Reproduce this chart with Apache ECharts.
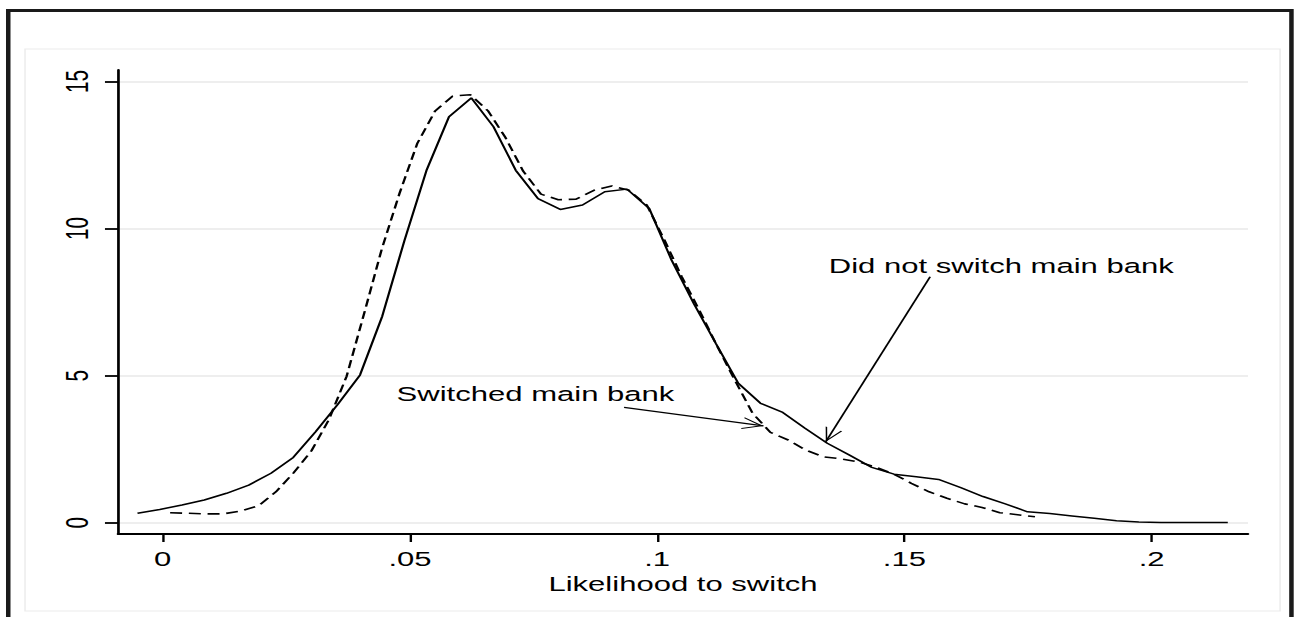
<!DOCTYPE html>
<html>
<head>
<meta charset="utf-8">
<script src="https://cdn.jsdelivr.net/npm/echarts@6/dist/echarts.min.js"></script>
<style>
html,body{margin:0;padding:0;background:#fff;overflow:hidden;}
#wrap{width:1294px;height:617px;overflow:hidden;position:relative;}
#chart{width:863px;height:617px;transform:scaleX(1.4994206);transform-origin:0 0;}
</style>
</head>
<body>
<div id="wrap"><div id="chart"></div></div>
<script>
// Kernel density: did not switch main bank (solid)
const solidX = [-0.0051,-0.0006,0.0039,0.0084,0.0129,0.0174,0.0219,0.0264,0.0309,0.0354,
  0.0399,0.0444,0.0489,0.0534,0.0579,0.0624,0.0669,0.0714,0.0759,0.0804,
  0.0849,0.0894,0.0939,0.0984,0.1029,0.1074,0.1119,0.1164,0.1209,0.1254,
  0.1299,0.1344,0.1389,0.1434,0.1479,0.1524,0.1569,0.1614,0.1659,0.1704,
  0.1749,0.1794,0.1839,0.1884,0.1929,0.1974,0.2019,0.2064,0.2109,0.2154];
const solidY = [0.32,0.45,0.60,0.77,1.00,1.28,1.68,2.22,3.09,4.02,
  5.02,7.02,9.6,12.0,13.80,14.44,13.46,11.98,11.02,10.65,
  10.80,11.25,11.34,10.68,8.93,7.45,6.08,4.74,4.06,3.75,
  3.21,2.70,2.30,1.88,1.65,1.56,1.47,1.19,0.89,0.64,
  0.37,0.31,0.23,0.15,0.07,0.02,0.01,0.01,0.01,0.01];
// Kernel density: switched main bank (dashed)
const dashX = [0.0015,0.0051,0.0086,0.0122,0.0158,0.0194,0.0229,0.0265,0.0301,0.0336,
  0.0372,0.0408,0.0443,0.0479,0.0515,0.0551,0.0586,0.0622,0.0658,0.0693,
  0.0729,0.0765,0.0800,0.0836,0.0872,0.0908,0.0943,0.0979,0.1015,0.1050,
  0.1086,0.1122,0.1157,0.1193,0.1229,0.1265,0.1300,0.1336,0.1372,0.1407,
  0.1443,0.1479,0.1514,0.1550,0.1586,0.1622,0.1657,0.1693,0.1729,0.1764];
const dashY = [0.34,0.32,0.30,0.30,0.40,0.58,1.05,1.70,2.45,3.50,
  4.98,7.15,9.3,11.2,12.9,14.0,14.5,14.55,14.0,13.1,
  11.95,11.17,10.98,11.0,11.3,11.45,11.3,10.8,9.6,8.35,
  7.2,5.98,4.85,3.72,3.07,2.81,2.47,2.24,2.17,2.07,
  1.88,1.65,1.34,1.05,0.83,0.64,0.52,0.34,0.27,0.20];
const xTickValues = [0, 0.05, 0.1, 0.15, 0.2];
const xTickLabels = ['0', '.05', '.1', '.15', '.2'];
const yTickValues = [0, 5, 10, 15];
const yTickLabels = ['0', '5', '10', '15'];
const xTitle = 'Likelihood to switch';
const labelNotSwitch = 'Did not switch main bank';
const labelSwitch = 'Switched main bank';
// annotation anchors (data coordinates)
const notSwitchText = [0.1347, 8.73];
const notSwitchArrow = [[0.1552, 8.36], [0.1341, 2.75]];
const switchText = [0.0473, 4.38];
const switchArrow = [[0.0933, 3.92], [0.1215, 3.29]];

const FONT = 'Liberation Sans';
const FS = 20.7;
// open "V" arrow head; the tip sits at the centre of the path's box so it lands on the line end
const chevron = 'path://M5,12 L10,24 L9.1,24 L5,14.2 L0.9,24 L0,24 Z M5,0 L5.01,0 L5,0.01 Z';

const chart = echarts.init(document.getElementById('chart'), null, {renderer: 'svg'});
const pairs = (xs, ys) => xs.map((x, i) => [x, ys[i]]);

chart.setOption({
  animation: false,
  backgroundColor: '#fff',
  graphic: [
    {type: 'rect', z: -10, silent: true,
      shape: {x: 16.7, y: 49, width: 837, height: 562},
      style: {fill: '#fff', stroke: '#ececec', lineWidth: 1}},
    {type: 'rect', z: 100, silent: true,
      shape: {x: 5.5, y: 10.5, width: 855.8, height: 700},
      style: {fill: null, stroke: '#1a1a1a', lineWidth: 3}}
  ],
  grid: {left: 78.7, right: 30.7, top: 70, bottom: 83, containLabel: false},
  xAxis: {
    type: 'value', min: -0.00904, max: 0.21948,
    axisLine: {show: true, onZero: false, lineStyle: {color: '#000', width: 1.8}},
    axisTick: {show: true, length: 8, customValues: xTickValues, lineStyle: {color: '#000', width: 1.6}},
    axisLabel: {customValues: xTickValues, margin: 14, color: '#000', fontFamily: FONT, fontSize: FS,
      formatter: v => { const k = xTickValues.findIndex(t => Math.abs(t - v) < 1e-9); return k >= 0 ? xTickLabels[k] : ''; }},
    splitLine: {show: false},
    name: xTitle, nameLocation: 'middle', nameGap: 38,
    nameTextStyle: {color: '#000', fontFamily: FONT, fontSize: FS}
  },
  yAxis: {
    type: 'value', min: -0.384, max: 15.39,
    axisLine: {show: true, onZero: false, lineStyle: {color: '#000', width: 1.8}},
    axisTick: {show: true, length: 8.7, customValues: yTickValues, lineStyle: {color: '#000', width: 1.8}},
    axisLabel: {customValues: yTickValues, rotate: 90, margin: 16.5, color: '#000', fontFamily: FONT, fontSize: FS,
      formatter: v => { const k = yTickValues.findIndex(t => Math.abs(t - v) < 1e-9); return k >= 0 ? yTickLabels[k] : ''; }},
    splitLine: {show: true, lineStyle: {color: '#e8e8e8', width: 1.5}}
  },
  series: [
    {
      name: labelSwitch, type: 'line', data: pairs(dashX, dashY),
      showSymbol: false, symbol: 'none', smooth: false,
      lineStyle: {color: '#000', width: 1.6, type: [8, 4.5]}
    },
    {
      name: labelNotSwitch, type: 'line', data: pairs(solidX, solidY),
      showSymbol: false, symbol: 'none', smooth: false,
      lineStyle: {color: '#000', width: 1.5},
      markLine: {
        silent: true, symbol: ['none', chevron], symbolSize: [12, 28],
        label: {show: false},
        lineStyle: {color: '#000', width: 1.3, type: 'solid'},
        data: [
          [{coord: notSwitchArrow[0]}, {coord: notSwitchArrow[1]}],
          [{coord: switchArrow[0]}, {coord: switchArrow[1]}]
        ]
      },
      markPoint: {
        silent: true, symbol: 'circle', symbolSize: 0,
        itemStyle: {color: 'transparent'},
        label: {show: true, position: 'right', distance: 0, color: '#000', fontFamily: FONT, fontSize: FS},
        data: [
          {coord: notSwitchText, label: {formatter: labelNotSwitch}},
          {coord: switchText, label: {formatter: labelSwitch}}
        ]
      }
    }
  ]
});
</script>
</body>
</html>
